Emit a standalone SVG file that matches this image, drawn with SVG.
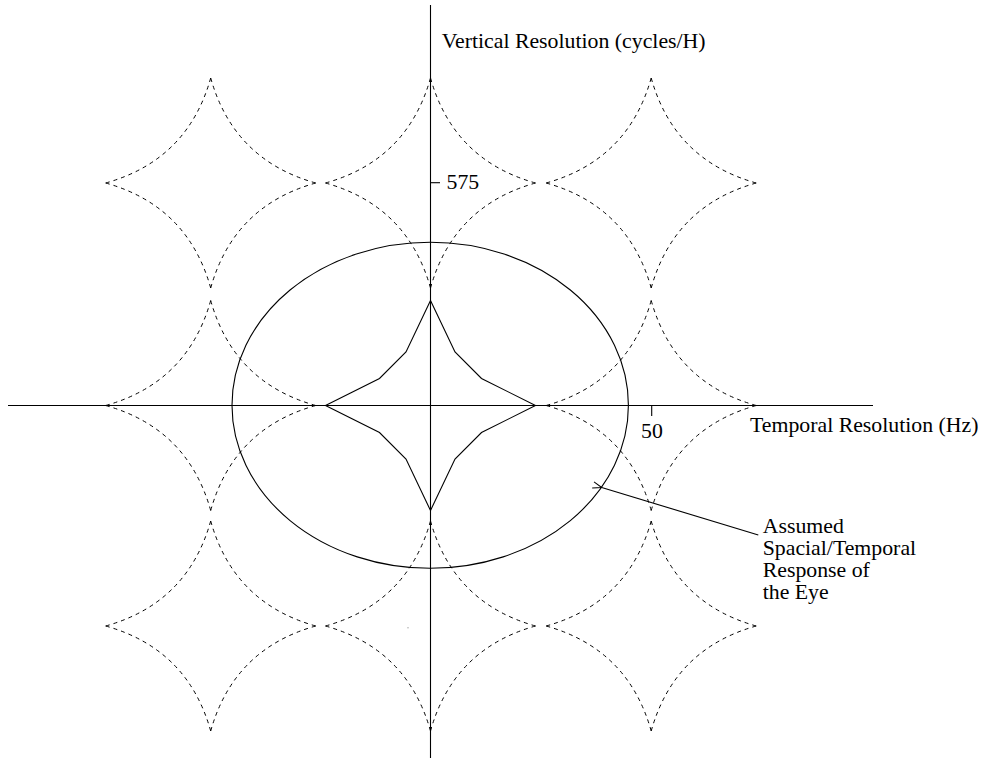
<svg xmlns="http://www.w3.org/2000/svg" xmlns:xlink="http://www.w3.org/1999/xlink" width="982" height="759" viewBox="0 0 982 759">
  <style>
    .axis { stroke: #000; stroke-width: 1.1; fill: none; }
    .solid { stroke: #000; stroke-width: 1.1; fill: none; stroke-linejoin: miter; }
    .dash { stroke: #000; stroke-width: 1; fill: none; stroke-dasharray: 4 4; }
    .lbl { font-family: "Liberation Serif", "Times New Roman", serif; font-size: 21.8px; fill: #000; }
  </style>
  <defs>
    <!-- one spectral replica: four concave arcs, each half drawn outward from a tip -->
    <path id="replica" d="M0,-105 Q11.5,-64 37.75,-37.75 M0,-105 Q-11.5,-64 -37.75,-37.75
             M105,0 Q64,-11.5 37.75,-37.75 M105,0 Q64,11.5 37.75,37.75
             M0,105 Q11.5,64 37.75,37.75 M0,105 Q-11.5,64 -37.75,37.75
             M-105,0 Q-64,-11.5 -37.75,-37.75 M-105,0 Q-64,11.5 -37.75,37.75"/>
    <marker id="openArrow" markerWidth="12" markerHeight="10" refX="0" refY="4" orient="auto" markerUnits="userSpaceOnUse">
      <path d="M9,0.8 L0,4 L9,7.2" fill="none" stroke="#000" stroke-width="1"/>
    </marker>
  </defs>

  <!-- repeated spectra (dashed) -->
  <g id="replicas" class="dash">
    <use xlink:href="#replica" transform="translate(210.7,183)"/>
    <use xlink:href="#replica" transform="translate(430.5,183)"/>
    <use xlink:href="#replica" transform="translate(651.2,183)"/>
    <use xlink:href="#replica" transform="translate(210.7,405.5)"/>
    <use xlink:href="#replica" transform="translate(651.2,405.5)"/>
    <use xlink:href="#replica" transform="translate(210.7,626)"/>
    <use xlink:href="#replica" transform="translate(430.5,626)"/>
    <use xlink:href="#replica" transform="translate(651.2,626)"/>
  </g>

  <!-- baseband spectrum -->
  <g id="baseband">
    <polygon class="solid" transform="translate(430.5,405.5)"
      points="0,-105 24.5,-53.5 51,-27 105,0 51,27 24.5,53.5 0,105 -24.5,53.5 -51,27 -105,0 -51,-27 -24.5,-53.5"/>
  </g>

  <!-- eye response -->
  <g id="eye-response">
    <ellipse class="solid" cx="430.2" cy="405.3" rx="198.2" ry="163"/>
  </g>

  <!-- axes with ticks -->
  <g id="axes">
    <line class="axis" x1="430.5" y1="5" x2="430.5" y2="758"/>
    <line class="axis" x1="8" y1="405.5" x2="873" y2="405.5"/>
    <line class="axis" x1="430.5" y1="182.7" x2="440" y2="182.7"/>
    <line class="axis" x1="651.7" y1="405.5" x2="651.7" y2="416"/>
    <rect x="407.5" y="627.3" width="1" height="1" fill="#777"/>
  </g>

  <!-- texts -->
  <g id="labels">
    <text class="lbl" x="441.7" y="48">Vertical Resolution (cycles/H)</text>
    <text class="lbl" x="446.5" y="188.5">575</text>
    <text class="lbl" x="652" y="438.3" text-anchor="middle">50</text>
    <text class="lbl" x="750" y="431.7">Temporal Resolution (Hz)</text>
    <text class="lbl" x="762.7" y="533.3">Assumed</text>
    <text class="lbl" x="762.7" y="555.3">Spacial/Temporal</text>
    <text class="lbl" x="762.7" y="577.3">Response of</text>
    <text class="lbl" x="762.7" y="599.3">the Eye</text>
  </g>

  <!-- callout connector -->
  <g id="connectors">
    <line class="axis" x1="758.3" y1="535" x2="601.7" y2="487.5" marker-end="url(#openArrow)"/>
  </g>
</svg>
